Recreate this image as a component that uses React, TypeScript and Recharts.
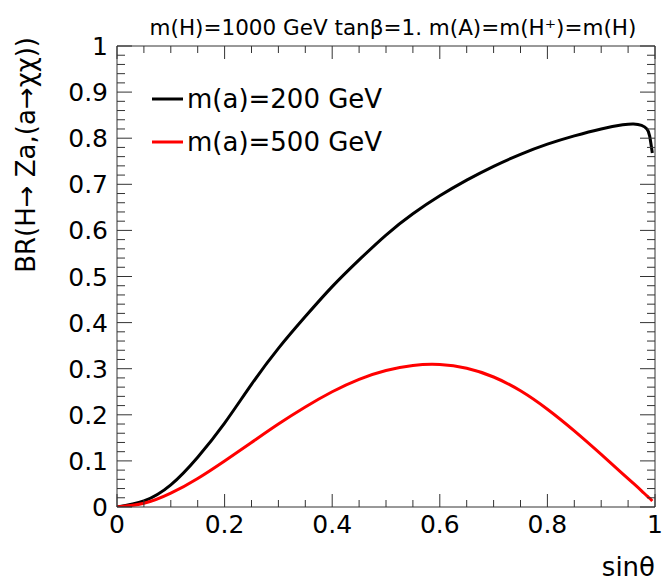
import React from 'react';
import { LineChart, Line, XAxis, YAxis, Customized } from 'recharts';

// ---- data ----
const sinTheta = [0, 0.05, 0.1, 0.15, 0.2, 0.25, 0.3, 0.35, 0.4, 0.45, 0.5, 0.55, 0.6, 0.65, 0.7, 0.75, 0.8, 0.85, 0.9, 0.94, 0.96, 0.975, 0.985, 0.99, 0.995];
const brMa200 = [0, 0.013, 0.048, 0.108, 0.182, 0.266, 0.344, 0.413, 0.478, 0.536, 0.59, 0.636, 0.675, 0.709, 0.739, 0.765, 0.787, 0.805, 0.82, 0.829, 0.831, 0.828, 0.82, 0.805, 0.768];
const brMa500 = [0, 0.008, 0.03, 0.062, 0.1, 0.14, 0.18, 0.217, 0.25, 0.277, 0.296, 0.307, 0.309, 0.301, 0.282, 0.252, 0.212, 0.165, 0.114, 0.072, 0.051, 0.035, 0.024, 0.019, 0.013];

const seriesLabels = ['m(a)=200 GeV', 'm(a)=500 GeV'];
const seriesColors = ['#000000', '#ff0000'];
const titleText = 'm(H)=1000 GeV tanβ=1. m(A)=m(H⁺)=m(H)';
const yTitleText = 'BR(H→ Za,(a→χχ))';
const xTitleText = 'sinθ';

const xTickValues = [0, 0.05, 0.1, 0.15, 0.2, 0.25, 0.3, 0.35, 0.4, 0.45, 0.5, 0.55, 0.6, 0.65, 0.7, 0.75, 0.8, 0.85, 0.9, 0.95, 1];
const yTickValues = [
  0, 0.02, 0.04, 0.06, 0.08, 0.1, 0.12, 0.14, 0.16, 0.18, 0.2, 0.22, 0.24, 0.26, 0.28, 0.3,
  0.32, 0.34, 0.36, 0.38, 0.4, 0.42, 0.44, 0.46, 0.48, 0.5, 0.52, 0.54, 0.56, 0.58, 0.6,
  0.62, 0.64, 0.66, 0.68, 0.7, 0.72, 0.74, 0.76, 0.78, 0.8, 0.82, 0.84, 0.86, 0.88, 0.9,
  0.92, 0.94, 0.96, 0.98, 1,
];
const xMajorStep = 0.2;
const yMajorStep = 0.1;

const rows = sinTheta.map((s, i) => ({ s, a: brMa200[i], b: brMa500[i] }));

const FONT = '"DejaVu Sans", "Liberation Sans", Arial, sans-serif';
const TICK = '#333';
const isMajor = (v: number, step: number) => Math.abs(v / step - Math.round(v / step)) < 1e-6;
const fmt = (v: number) => String(Math.round(v * 100) / 100);

const LeftTick = (props: any) => {
  const { x, y, payload } = props;
  const v = payload.value;
  const major = isMajor(v, yMajorStep);
  return (
    <g>
      <line x1={x} x2={x + (major ? 15 : 8)} y1={y} y2={y} stroke={TICK} strokeWidth={1} />
      {major && (
        <text x={x - 9} y={y} dy="0.36em" textAnchor="end" fontSize={25} fontFamily={FONT} fill="#000">
          {fmt(v)}
        </text>
      )}
    </g>
  );
};

const RightTick = (props: any) => {
  const { x, y, payload } = props;
  const major = isMajor(payload.value, yMajorStep);
  return <line x1={x} x2={x - (major ? 15 : 8)} y1={y} y2={y} stroke={TICK} strokeWidth={1} />;
};

const BottomTick = (props: any) => {
  const { x, y, payload } = props;
  const v = payload.value;
  const major = isMajor(v, xMajorStep);
  return (
    <g>
      <line x1={x} x2={x} y1={y} y2={y - (major ? 13 : 7)} stroke={TICK} strokeWidth={1} />
      {major && (
        <text x={x} y={y + 26} textAnchor="middle" fontSize={25} fontFamily={FONT} fill="#000">
          {fmt(v)}
        </text>
      )}
    </g>
  );
};

const TopTick = (props: any) => {
  const { x, y, payload } = props;
  const major = isMajor(payload.value, xMajorStep);
  return <line x1={x} x2={x} y1={y} y2={y + (major ? 13 : 7)} stroke={TICK} strokeWidth={1} />;
};

const Decorations = () => (
  <g fontFamily={FONT} fill="#000">
    <text x={393} y={35} textAnchor="middle" fontSize={21.5}>{titleText}</text>
    <text
      x={0}
      y={0}
      transform="translate(35, 37) rotate(-90)"
      textAnchor="end"
      fontSize={26}
    >
      {yTitleText}
    </text>
    <text x={655} y={576} textAnchor="end" fontSize={26}>{xTitleText}</text>
    {seriesLabels.map((lab, i) => (
      <g key={lab}>
        <line x1={152} x2={183} y1={99 + i * 43} y2={99 + i * 43} stroke={seriesColors[i]} strokeWidth={3} />
        <text x={187} y={99 + i * 43} dy="0.36em" fontSize={26}>{lab}</text>
      </g>
    ))}
  </g>
);

export default function App() {
  return (
    <div style={{ position: 'absolute', left: 0, top: 0, width: 665, height: 584, background: '#fff' }}>
      <LineChart width={665} height={584} data={rows} margin={{ top: 0, right: 0, bottom: 0, left: 0 }}>
        <XAxis
          xAxisId="bottom"
          orientation="bottom"
          dataKey="s"
          type="number"
          domain={[0, 1]}
          ticks={xTickValues}
          interval={0}
          height={77}
          tickSize={0}
          tickMargin={0}
          tickLine={false}
          axisLine={{ stroke: TICK }}
          tick={BottomTick}
          allowDataOverflow
        />
        <XAxis
          xAxisId="top"
          orientation="top"
          dataKey="s"
          type="number"
          domain={[0, 1]}
          ticks={xTickValues}
          interval={0}
          height={46}
          tickSize={0}
          tickMargin={0}
          tickLine={false}
          axisLine={{ stroke: TICK }}
          tick={TopTick}
          allowDataOverflow
        />
        <YAxis
          yAxisId="left"
          orientation="left"
          type="number"
          domain={[0, 1]}
          ticks={yTickValues}
          interval={0}
          width={117}
          tickSize={0}
          tickMargin={0}
          tickLine={false}
          axisLine={{ stroke: TICK }}
          tick={LeftTick}
          allowDataOverflow
        />
        <YAxis
          yAxisId="right"
          orientation="right"
          type="number"
          domain={[0, 1]}
          ticks={yTickValues}
          interval={0}
          width={10}
          tickSize={0}
          tickMargin={0}
          tickLine={false}
          axisLine={{ stroke: TICK }}
          tick={RightTick}
          allowDataOverflow
        />
        <Line
          xAxisId="bottom"
          yAxisId="left"
          dataKey="a"
          type="natural"
          stroke={seriesColors[0]}
          strokeWidth={3}
          dot={false}
          isAnimationActive={false}
        />
        <Line
          xAxisId="bottom"
          yAxisId="left"
          dataKey="b"
          type="natural"
          stroke={seriesColors[1]}
          strokeWidth={3}
          dot={false}
          isAnimationActive={false}
        />
        <Customized component={Decorations} />
      </LineChart>
    </div>
  );
}
